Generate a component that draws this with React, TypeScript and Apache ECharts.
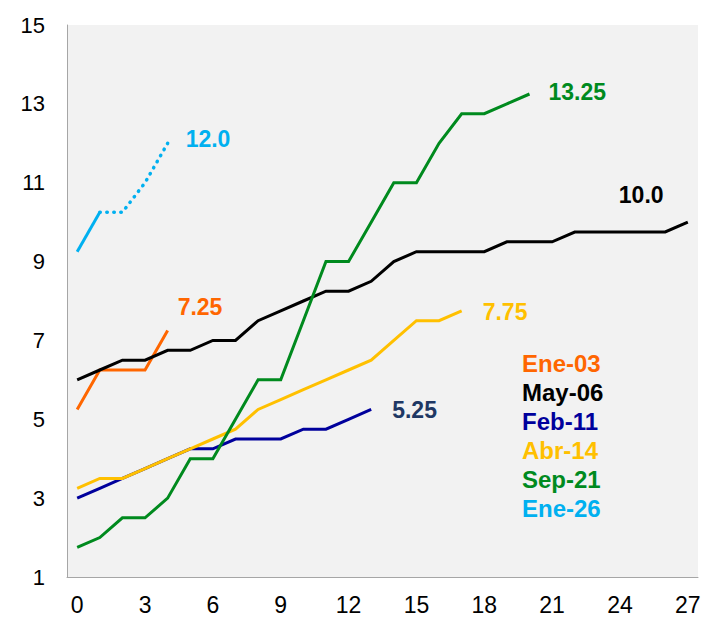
import React, { useEffect, useRef } from "react";
import * as echarts from "echarts";

const seriesNames = ["Ene-03", "May-06", "Feb-11", "Abr-14", "Sep-21", "Ene-26"];
const seriesColors = ["#FF6600", "#000000", "#00009C", "#FFC000", "#008A1E", "#00B0F0"];
const labelColors = ["#FF6600", "#000000", "#1F3864", "#FFC000", "#008A1E", "#00B0F0"];

const ene03 = [5.25, 6.25, 6.25, 6.25, 7.25];
const may06 = [6.0, 6.25, 6.5, 6.5, 6.75, 6.75, 7.0, 7.0, 7.5, 7.75, 8.0, 8.25, 8.25, 8.5, 9.0, 9.25, 9.25, 9.25, 9.25, 9.5, 9.5, 9.5, 9.75, 9.75, 9.75, 9.75, 9.75, 10.0];
const feb11 = [3.0, 3.25, 3.5, 3.75, 4.0, 4.25, 4.25, 4.5, 4.5, 4.5, 4.75, 4.75, 5.0, 5.25];
const abr14 = [3.25, 3.5, 3.5, 3.75, 4.0, 4.25, 4.5, 4.75, 5.25, 5.5, 5.75, 6.0, 6.25, 6.5, 7.0, 7.5, 7.5, 7.75];
const sep21 = [1.75, 2.0, 2.5, 2.5, 3.0, 4.0, 4.0, 5.0, 6.0, 6.0, 7.5, 9.0, 9.0, 10.0, 11.0, 11.0, 12.0, 12.75, 12.75, 13.0, 13.25];
const ene26 = [9.25, 10.25, 10.25, 11.0, 12.0];
const ene26SolidEnd = 1; // solid up to this index, dotted afterwards

const xTicks = [0, 3, 6, 9, 12, 15, 18, 21, 24, 27];
const yTicks = [1, 3, 5, 7, 9, 11, 13, 15];

const endOffsets: number[][] = [
  [10, -24],
  [-69, -27],
  [21, 1],
  [21, 1],
  [19, -2],
  [18, -4],
];

const FONT = "Liberation Sans, Arial, sans-serif";

function fmt(v: number) {
  return Number.isInteger(v) ? v.toFixed(1) : String(v);
}

export default function App() {
  const ref = useRef<HTMLDivElement>(null);
  useEffect(() => {
    if (!ref.current) return;
    const chart = echarts.init(ref.current, undefined, { renderer: "svg" });
    const allData = [ene03, may06, feb11, abr14, sep21];
    const toPts = (arr: number[], start = 0) => arr.map((v, i) => [i + start, v]);

    const mkEndLabel = (k: number) => ({
      show: true,
      distance: 0,
      offset: endOffsets[k],
      formatter: (p: any) => fmt(p.value[1]),
      color: labelColors[k],
      fontWeight: "bold",
      fontSize: 23,
      fontFamily: FONT,
    });

    const series: any[] = allData.map((arr, k) => ({
      type: "line",
      name: seriesNames[k],
      data: toPts(arr),
      showSymbol: false,
      symbol: "none",
      lineStyle: { color: seriesColors[k], width: 3, join: "miter" },
      itemStyle: { color: seriesColors[k] },
      endLabel: mkEndLabel(k),
      z: k === 4 ? 3 : 2,
    }));

    series.push({
      type: "line",
      name: seriesNames[5] + "-solid",
      data: toPts(ene26.slice(0, ene26SolidEnd + 1)),
      showSymbol: false,
      symbol: "none",
      lineStyle: { color: seriesColors[5], width: 3 },
    });
    series.push({
      type: "line",
      name: seriesNames[5],
      data: toPts(ene26.slice(ene26SolidEnd), ene26SolidEnd),
      showSymbol: false,
      symbol: "none",
      lineStyle: { color: seriesColors[5], width: 3.5, type: [0.5, 6.5], cap: "round" },
      endLabel: mkEndLabel(5),
    });

    const legendTop = 363;
    const legendGap = 29;

    chart.setOption({
      animation: false,
      backgroundColor: "#FFFFFF",
      grid: {
        left: 67,
        top: 25,
        right: 11,
        bottom: 42,
        show: true,
        backgroundColor: "#F2F2F2",
        borderWidth: 0,
      },
      xAxis: {
        type: "value",
        min: -0.45,
        max: 27.45,
        splitLine: { show: false },
        axisTick: { show: false },
        axisLine: { show: true, onZero: false, lineStyle: { color: "#A6A6A6", width: 1 } },
        axisLabel: {
          customValues: xTicks,
          color: "#000000",
          fontSize: 23,
          fontFamily: FONT,
          margin: 16,
        },
      },
      yAxis: {
        type: "value",
        min: 1,
        max: 15,
        splitLine: { show: false },
        axisTick: { show: false },
        axisLine: { show: true, onZero: false, lineStyle: { color: "#A6A6A6", width: 1 } },
        axisLabel: {
          customValues: yTicks,
          color: "#000000",
          fontSize: 22,
          fontFamily: FONT,
          margin: 22,
        },
      },
      graphic: seriesNames.map((n, k) => ({
        type: "text",
        x: 522,
        y: legendTop + k * legendGap,
        style: {
          text: n,
          fill: seriesColors[k],
          font: `bold 24px ${FONT}`,
          verticalAlign: "middle",
          align: "left",
        },
      })),
      series,
    });
    return () => chart.dispose();
  }, []);
  return (
    <div
      ref={ref}
      style={{ position: "fixed", left: 0, top: 0, width: 709, height: 619 }}
    />
  );
}
